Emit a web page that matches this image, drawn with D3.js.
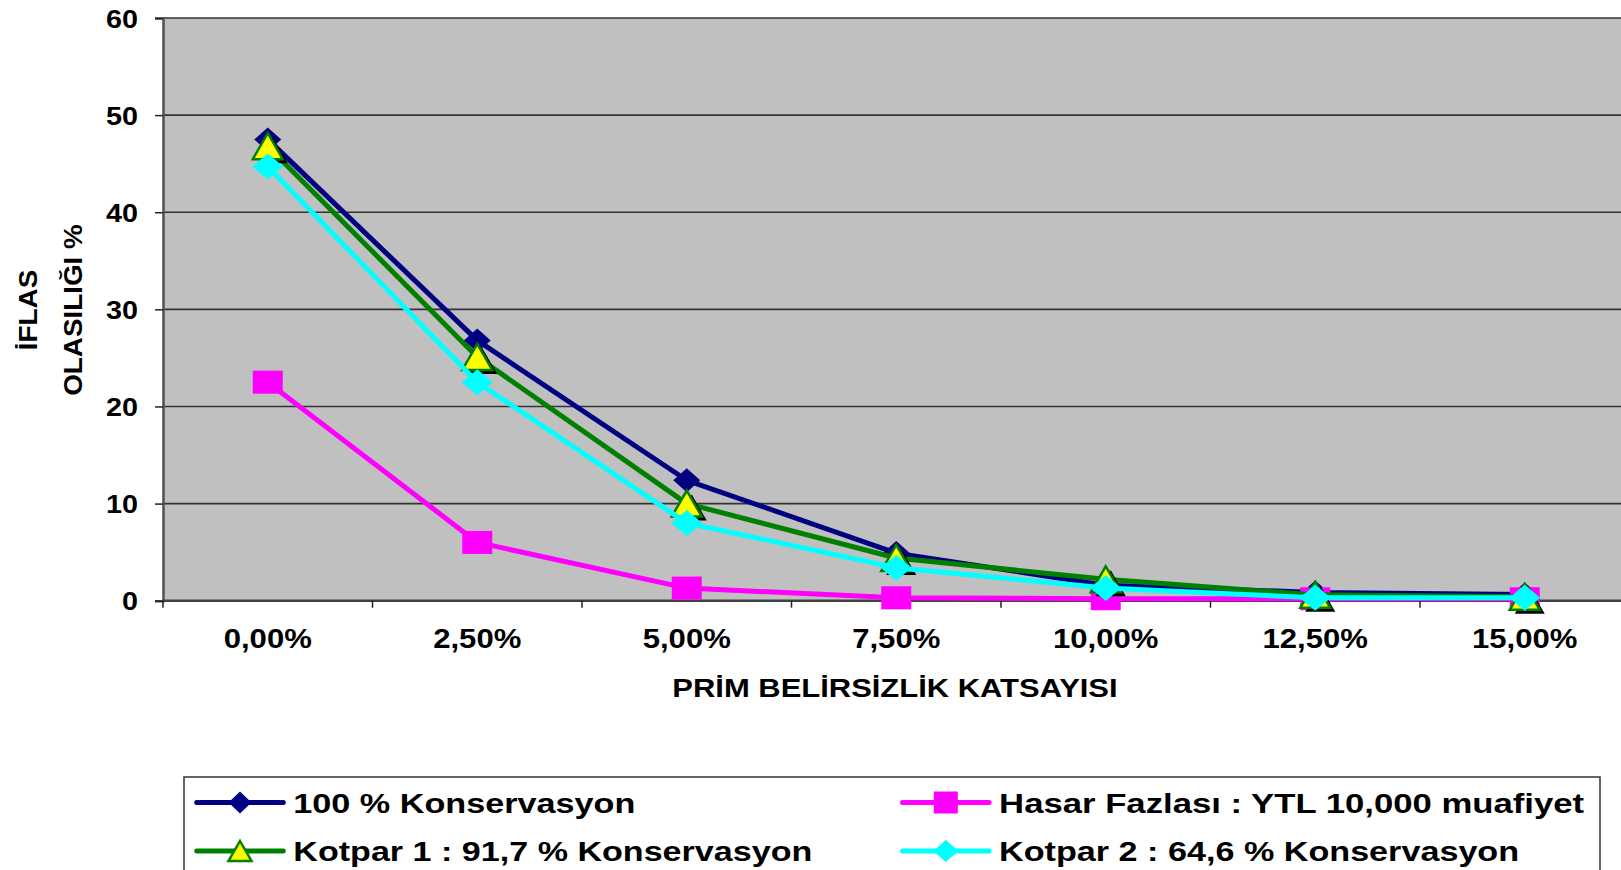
<!DOCTYPE html>
<html>
<head>
<meta charset="utf-8">
<script src="https://cdn.jsdelivr.net/npm/d3@7"></script>
<style>
  html, body { margin: 0; padding: 0; background: #fff; overflow: hidden; }
  svg { display: block; font-family: "Liberation Sans", Arial, sans-serif; font-weight: bold; }
</style>
</head>
<body>
<svg id="chart" width="1621" height="870"></svg>
<script>
// Premium uncertainty coefficient (x) vs. ruin probability in % (y)
const categories = ["0,00%", "2,50%", "5,00%", "7,50%", "10,00%", "12,50%", "15,00%"];
const yTicks = [0, 10, 20, 30, 40, 50, 60];

const seriesNames = [
  "100 % Konservasyon",
  "Hasar Fazlası : YTL 10,000 muafiyet",
  "Kotpar 1 : 91,7 % Konservasyon",
  "Kotpar 2 : 64,6 % Konservasyon"
];
const konservasyon100 = [47.5, 26.8, 12.4, 4.9, 1.6, 0.85, 0.65];
const hasarFazlasi    = [22.5, 6.0, 1.3, 0.3, 0.2, 0.2, 0.2];
const kotpar1         = [46.8, 25.1, 10.0, 4.4, 2.2, 0.6, 0.4];
const kotpar2         = [44.7, 22.5, 8.0, 3.4, 1.3, 0.3, 0.3];

const yTitleLines = ["İFLAS", "OLASILIĞI %"];
const xTitle = "PRİM BELİRSİZLİK KATSAYISI";

// ---- layout ----
const plot = { left: 163, right: 1629.5, top: 18, bottom: 600.7 };
const svg = d3.select("#chart");

const x = d3.scaleBand().domain(categories).range([plot.left, plot.right]).padding(0);
const y = d3.scaleLinear().domain([0, 60]).range([plot.bottom, plot.top]);
const cx = c => x(c) + x.bandwidth() / 2;

// stretch a text element horizontally to a given factor of its natural width
function stretch(sel, factor) {
  sel.each(function () {
    const w = this.getComputedTextLength();
    d3.select(this).attr("textLength", w * factor).attr("lengthAdjust", "spacingAndGlyphs");
  });
}

// plot area
svg.append("rect")
  .attr("x", plot.left).attr("y", plot.top)
  .attr("width", plot.right - plot.left).attr("height", plot.bottom - plot.top)
  .attr("fill", "#C0C0C0");

// horizontal gridlines
svg.append("g").selectAll("line").data(yTicks.filter(t => t > 0)).join("line")
  .attr("x1", plot.left).attr("x2", plot.right)
  .attr("y1", d => y(d)).attr("y2", d => y(d))
  .attr("stroke", "#333").attr("stroke-width", 1.6);

// y axis
const yAxis = svg.append("g")
  .attr("transform", `translate(${plot.left},0)`)
  .call(d3.axisLeft(y).tickValues(yTicks).tickSize(8).tickPadding(17).tickFormat(d3.format("d")));
yAxis.select(".domain").attr("stroke", "#505050").attr("stroke-width", 2.5);
yAxis.selectAll(".tick line").attr("stroke", "#222").attr("stroke-width", 1.5);
yAxis.selectAll(".tick text")
  .attr("font-size", 25).attr("font-weight", "bold").attr("fill", "#000")
  .attr("font-family", "Liberation Sans, Arial, sans-serif")
  .attr("dy", "0.36em")
  .call(stretch, 1.15);

// x axis: labels at category centres, ticks at category boundaries
const xAxis = svg.append("g")
  .attr("transform", `translate(0,${plot.bottom})`)
  .call(d3.axisBottom(x).tickSize(0).tickPadding(31));
xAxis.select(".domain").remove();
xAxis.selectAll(".tick text")
  .attr("font-size", 28).attr("font-weight", "bold").attr("fill", "#000")
  .attr("font-family", "Liberation Sans, Arial, sans-serif")
  .attr("dy", "0.6em")
  .call(stretch, 1.11);

svg.append("line")
  .attr("x1", plot.left).attr("x2", plot.right)
  .attr("y1", plot.bottom).attr("y2", plot.bottom)
  .attr("stroke", "#404040").attr("stroke-width", 2.5);
svg.append("g").selectAll("line").data(categories).join("line")
  .attr("x1", d => x(d)).attr("x2", d => x(d))
  .attr("y1", plot.bottom).attr("y2", plot.bottom + 7)
  .attr("stroke", "#222").attr("stroke-width", 1.5);

// axis titles
svg.append("text")
  .attr("x", 895).attr("y", 697)
  .attr("text-anchor", "middle").attr("font-size", 26).attr("fill", "#000")
  .text(xTitle)
  .call(stretch, 1.19);

const yTitle = svg.append("g");
yTitle.selectAll("text").data(yTitleLines).join("text")
  .attr("transform", (d, i) => `translate(${i === 0 ? 37 : 82},310) rotate(-90)`)
  .attr("text-anchor", "middle").attr("font-size", 26).attr("fill", "#000")
  .text(d => d)
  .call(stretch, 1.07);

// ---- marker shapes (w = width, h = height) ----
const diamondPath = (w, h) => `M0,${-h / 2}L${w / 2},0L0,${h / 2}L${-w / 2},0Z`;
const squarePath  = (w, h) => `M${-w / 2},${-h / 2}H${w / 2}V${h / 2}H${-w / 2}Z`;
const trianglePath = (w, h) => `M0,${-h / 2}L${w / 2},${h / 2}L${-w / 2},${h / 2}Z`;

const series = [
  { name: seriesNames[0], values: konservasyon100, color: "#000080",
    marker: { path: diamondPath(27, 24), fill: "#000080", stroke: "none" },
    legendMarker: { path: diamondPath(23, 22), fill: "#000080", stroke: "none" } },
  { name: seriesNames[1], values: hasarFazlasi, color: "#FF00FF",
    marker: { path: squarePath(30, 23), fill: "#FF00FF", stroke: "none" },
    legendMarker: { path: squarePath(24, 22), fill: "#FF00FF", stroke: "none" } },
  { name: seriesNames[2], values: kotpar1, color: "#008000",
    marker: { path: trianglePath(30, 26), fill: "#FFFF00", stroke: "#008000", shadow: true },
    legendMarker: { path: trianglePath(23, 20), fill: "#FFFF00", stroke: "#008000" } },
  { name: seriesNames[3], values: kotpar2, color: "#00FFFF",
    marker: { path: diamondPath(31, 26), fill: "#00FFFF", stroke: "none" },
    legendMarker: { path: diamondPath(25, 22), fill: "#00FFFF", stroke: "none" } }
];

const line = d3.line().x((d, i) => cx(categories[i])).y(d => y(d));

const seriesG = svg.append("g");
series.forEach(s => {
  const g = seriesG.append("g");
  g.append("path").datum(s.values)
    .attr("d", line).attr("fill", "none")
    .attr("stroke", s.color).attr("stroke-width", 5).attr("stroke-linejoin", "round");
  if (s.marker.shadow) {
    g.selectAll("path.shadow").data(s.values).join("path").attr("class", "shadow")
      .attr("transform", (d, i) => `translate(${cx(categories[i]) + 5},${y(d) + 4})`)
      .attr("d", s.marker.path).attr("fill", "#000");
  }
  g.selectAll("path.mk").data(s.values).join("path").attr("class", "mk")
    .attr("transform", (d, i) => `translate(${cx(categories[i])},${y(d)})`)
    .attr("d", s.marker.path).attr("fill", s.marker.fill)
    .attr("stroke", s.marker.stroke).attr("stroke-width", 2.5).attr("stroke-linejoin", "miter");
});

// ---- legend ----
svg.append("rect")
  .attr("x", 184).attr("y", 777).attr("width", 1416).attr("height", 120)
  .attr("fill", "#fff").attr("stroke", "#333").attr("stroke-width", 1.5);

const legendItems = [
  { s: series[0], col: 0, row: 0, width: 342 },
  { s: series[1], col: 1, row: 0, width: 585 },
  { s: series[2], col: 0, row: 1, width: 519 },
  { s: series[3], col: 1, row: 1, width: 520 }
];
const colX = [196.7, 902.5];
const rowY = [802.5, 851];

const leg = svg.append("g").selectAll("g").data(legendItems).join("g")
  .attr("transform", d => `translate(${colX[d.col]},${rowY[d.row]})`);
leg.append("line")
  .attr("x1", 0).attr("x2", 86.6).attr("y1", 0).attr("y2", 0)
  .attr("stroke", d => d.s.color).attr("stroke-width", 5).attr("stroke-linecap", "round");
leg.append("path")
  .attr("transform", "translate(43.3,0)")
  .attr("d", d => d.s.legendMarker.path)
  .attr("fill", d => d.s.legendMarker.fill)
  .attr("stroke", d => d.s.legendMarker.stroke).attr("stroke-width", 2.5);
leg.append("text")
  .attr("x", 96.6).attr("y", 0).attr("dy", "0.36em")
  .attr("font-size", 28).attr("fill", "#000")
  .text(d => d.s.name)
  .attr("textLength", d => d.width).attr("lengthAdjust", "spacingAndGlyphs");
</script>
</body>
</html>
